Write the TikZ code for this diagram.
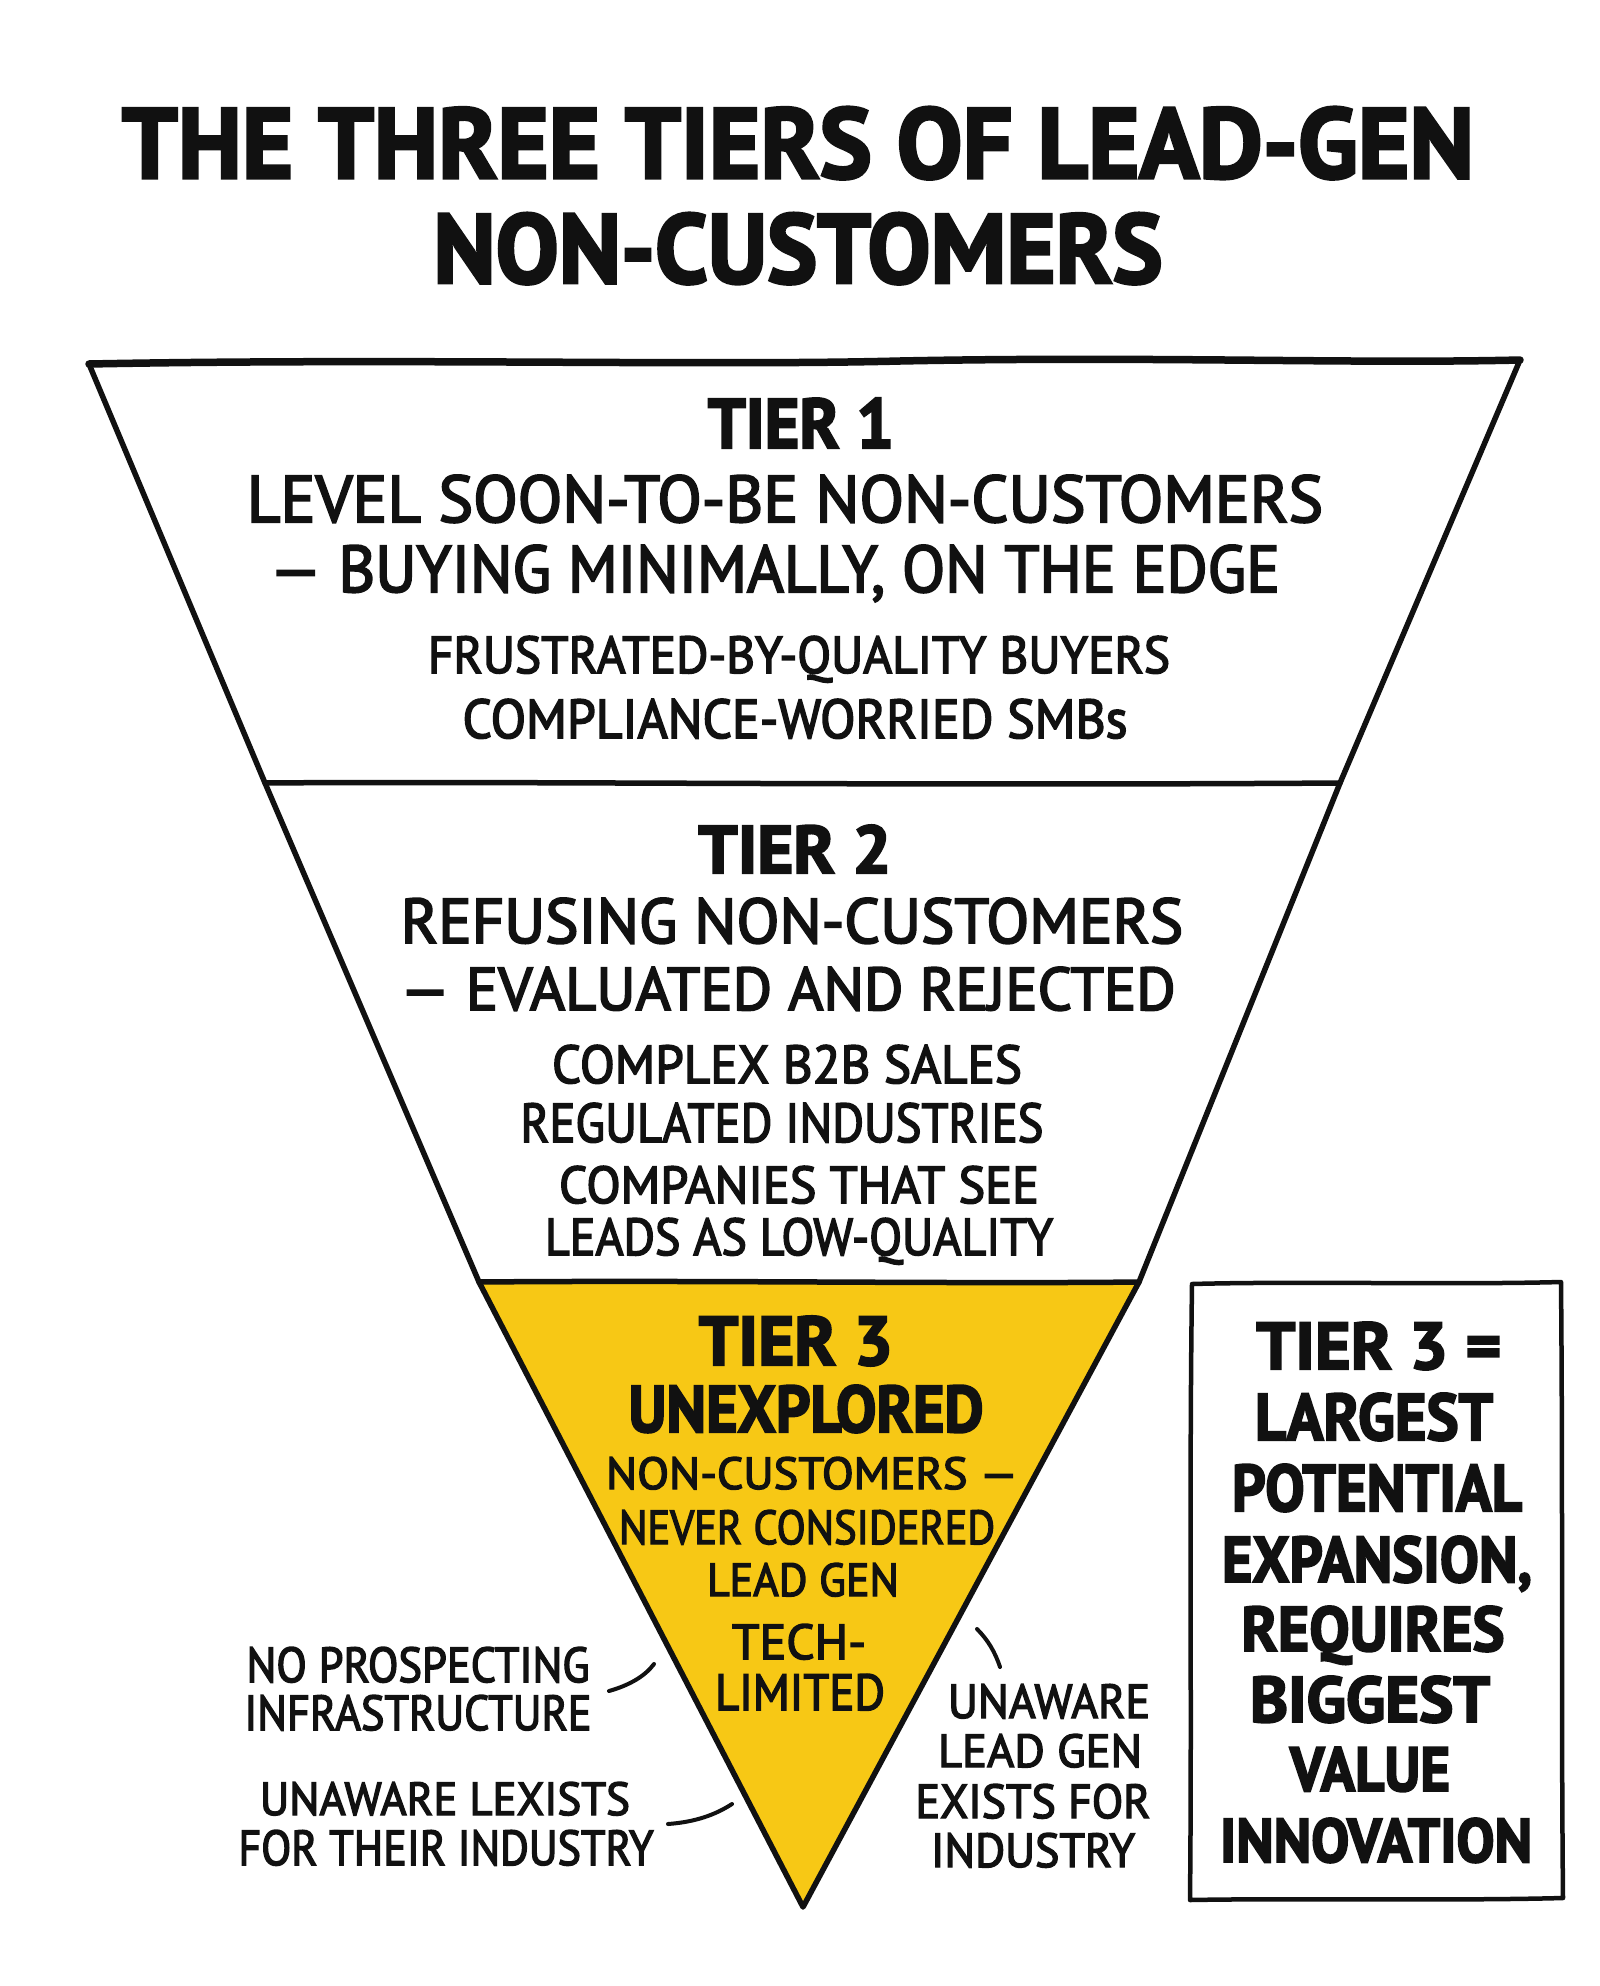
\documentclass[tikz,border=0pt]{standalone}
\usepackage{graphicx}
\usepackage{fontspec}
\setmainfont{PT Sans}
\newfontfamily\medf{PT Sans}[FakeBold=3]
\definecolor{inkc}{RGB}{17,17,17}
\definecolor{tieryellow}{RGB}{247,200,21}
\newcommand\fitt[3]{\resizebox{#1pt}{#2pt}{#3}}
\tikzset{
  txt/.style={anchor=base, inner sep=0pt, text=inkc, font=\medf},
  edge/.style={draw=inkc, line width=5.5pt, line join=round, line cap=round},
  topedge/.style={draw=inkc, line width=7.5pt, line join=round, line cap=round},
  leader/.style={draw=inkc, line width=4pt, line cap=round},
  boxline/.style={draw=inkc, line width=4.5pt, line join=round, line cap=round}
}
\begin{document}
\begin{tikzpicture}[x=1pt,y=-1pt]
\useasboundingbox[fill=white] (0,0) rectangle (1600,1986);
% title
\node[txt] (title1) at (798,178) {\fitt{1352}{71}{\bfseries THE THREE TIERS OF LEAD-GEN}};
\node[txt] (title2) at (798,283) {\fitt{729}{70}{\bfseries NON-CUSTOMERS}};
% funnel geometry
\coordinate (tl) at (89,364);
\coordinate (tr) at (1520,360);
\coordinate (l1) at (265,783);
\coordinate (r1) at (1340,783);
\coordinate (l2) at (479,1282);
\coordinate (r2) at (1139,1282);
\coordinate (tip) at (803,1907);
\fill[tieryellow] (l2) -- (r2) -- (tip) -- cycle;
\draw[edge] (tl) -- (l1) -- (l2) -- (tip) -- (r2) -- (r1) -- (tr);
\draw[topedge] (tl) .. controls (400,358) and (700,366) .. (900,361) .. controls (1150,356) and (1350,364) .. (tr);
\draw[edge] (l1) .. controls (500,781) and (900,786) .. (r1);
\draw[edge] (l2) .. controls (700,1280) and (950,1284) .. (r2);
% tier 1
\node[txt] (t1a) at (801,448) {\fitt{186}{50}{\bfseries TIER 1}};
\node[txt] (t1b) at (785,522) {\fitt{1076}{47}{LEVEL SOON-TO-BE NON-CUSTOMERS}};
\node[txt] (t1c) at (775,592) {\fitt{1010}{47}{— BUYING MINIMALLY, ON THE EDGE}};
\node[txt] (t1d) at (799,673) {\fitt{742}{37}{FRUSTRATED-BY-QUALITY BUYERS}};
\node[txt] (t1e) at (795,738) {\fitt{665}{39}{COMPLIANCE-WORRIED SMBs}};
% tier 2
\node[txt] (t2a) at (795,873) {\fitt{193}{48}{\bfseries TIER 2}};
\node[txt] (t2b) at (792,943) {\fitt{782}{45}{REFUSING NON-CUSTOMERS}};
\node[txt] (t2c) at (788,1010) {\fitt{775}{43}{— EVALUATED AND REJECTED}};
\node[txt] (t2d) at (787,1083) {\fitt{470}{38}{COMPLEX B2B SALES}};
\node[txt] (t2e) at (782,1142) {\fitt{523}{39}{REGULATED INDUSTRIES}};
\node[txt] (t2f) at (799,1203) {\fitt{480}{37}{COMPANIES THAT SEE}};
\node[txt] (t2g) at (799,1255) {\fitt{508}{37}{LEADS AS LOW-QUALITY}};
% tier 3
\node[txt] (t3a) at (796,1365) {\fitt{194}{49}{\bfseries TIER 3}};
\node[txt] (t3b) at (806,1432) {\fitt{355}{47}{\bfseries UNEXPLORED}};
\node[txt] (t3c) at (812,1489) {\fitt{412}{32}{NON-CUSTOMERS —}};
\node[txt] (t3d) at (807,1544) {\fitt{376}{34}{NEVER CONSIDERED}};
\node[txt] (t3e) at (803,1596) {\fitt{192}{33}{LEAD GEN}};
\node[txt] (t3f) at (799,1659) {\fitt{134}{35}{TECH-}};
\node[txt] (t3g) at (800,1710) {\fitt{170}{36}{LIMITED}};
% left annotations
\node[txt] (la1) at (418,1682) {\fitt{343}{35}{NO PROSPECTING}};
\node[txt] (la2) at (418,1730) {\fitt{347}{35}{INFRASTRUCTURE}};
\node[txt] (lb1) at (445,1815) {\fitt{370}{33}{UNAWARE LEXISTS}};
\node[txt] (lb2) at (446,1865) {\fitt{415}{35}{FOR THEIR INDUSTRY}};
% right annotation
\node[txt] (ra1) at (1049,1718) {\fitt{202}{34}{UNAWARE}};
\node[txt] (ra2) at (1040,1767) {\fitt{204}{33}{LEAD GEN}};
\node[txt] (ra3) at (1033,1818) {\fitt{235}{34}{EXISTS FOR}};
\node[txt] (ra4) at (1033,1867) {\fitt{204}{34}{INDUSTRY}};
% leaders
\coordinate (lae) at (609,1691);
\coordinate (las) at (654,1664);
\coordinate (lbe) at (668,1824);
\coordinate (lbs) at (732,1804);
\coordinate (ras) at (977,1629);
\coordinate (rae) at (1000,1667);
\draw[leader] (lae) .. controls (630,1685) and (645,1676) .. (las);
\draw[leader] (lbe) .. controls (695,1822) and (715,1815) .. (lbs);
\draw[leader] (ras) .. controls (988,1640) and (995,1652) .. (rae);
% box
\draw[boxline] (1192,1284) .. controls (1300,1281) and (1450,1285) .. (1561,1282)
  .. controls (1563,1500) and (1561,1700) .. (1563,1898)
  .. controls (1450,1901) and (1300,1898) .. (1190,1900)
  .. controls (1192,1700) and (1189,1500) .. cycle;
\node[txt] (b1) at (1379,1369) {\fitt{245}{47}{\bfseries TIER 3 =}};
\node[txt] (b2) at (1374,1440) {\fitt{238}{47}{\bfseries LARGEST}};
\node[txt] (b3) at (1377,1511) {\fitt{290}{47}{\bfseries POTENTIAL}};
\node[txt] (b4) at (1377,1582) {\fitt{310}{46}{\bfseries EXPANSION,}};
\node[txt] (b5) at (1373,1651) {\fitt{263}{45}{\bfseries REQUIRES}};
\node[txt] (b6) at (1370,1722) {\fitt{240}{46}{\bfseries BIGGEST}};
\node[txt] (b7) at (1370,1791) {\fitt{160}{44}{\bfseries VALUE}};
\node[txt] (b8) at (1376,1862) {\fitt{312}{44}{\bfseries INNOVATION}};
\end{tikzpicture}
\end{document}
